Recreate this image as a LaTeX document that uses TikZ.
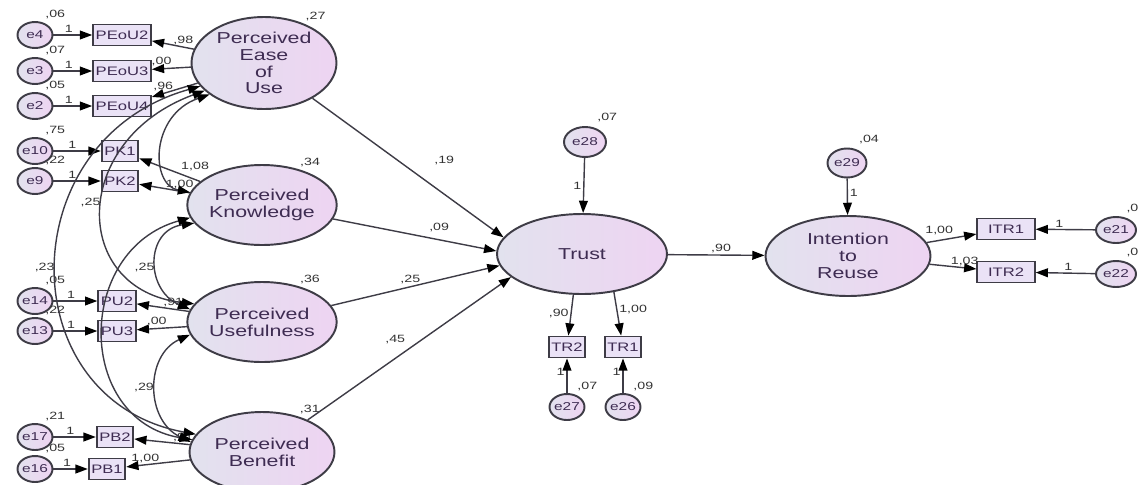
\documentclass[tikz,border=0pt]{standalone}
\usepackage{fontspec}
\setmainfont{Liberation Sans}[FakeStretch=1.35]
\usetikzlibrary{shapes.geometric,arrows.meta}

\definecolor{latleft}{RGB}{226,226,238}
\definecolor{latright}{RGB}{238,212,242}
\definecolor{boxfill}{RGB}{234,226,246}
\definecolor{edge}{RGB}{62,60,70}
\definecolor{ink}{RGB}{62,44,82}

\begin{document}
\begin{tikzpicture}[x=0.02cm, y=-0.02cm,
	latent/.style={ellipse, draw=edge, line width=1.1pt, left color=latleft, right color=latright, inner sep=0pt, text=ink, align=center, font=\fontsize{9}{9.5}\selectfont},
	errvar/.style={ellipse, draw=edge, line width=1.1pt, left color=latleft, right color=latright, inner xsep=-1pt, inner ysep=0pt, minimum width=0.7cm, minimum height=0.52cm, text=ink, font=\fontsize{6.5}{7}\selectfont},
	obs/.style={rectangle, draw=edge, line width=1pt, fill=boxfill, inner xsep=1.5pt, inner ysep=0pt, minimum height=0.42cm, text=ink, font=\fontsize{7}{8}\selectfont},
	lbl/.style={font=\fontsize{6}{7}\selectfont, text=black!80, inner sep=1pt},
	arr/.style={draw=edge, line width=0.8pt, -{Triangle[length=7pt,width=5pt,color=black]}},
	cov/.style={draw=edge, line width=0.8pt, {Triangle[length=7pt,width=5pt,color=black]}-{Triangle[length=7pt,width=5pt,color=black]}}]
	\useasboundingbox (0,0) rectangle (1142,484);
	% Latente Faktoren links
	\node[latent, minimum width=2.9cm, minimum height=1.84cm, label={[lbl]45:{,27}}] (PEoU) at (264,63) {Perceived\\Ease\\of\\Use};
	\node[latent, minimum width=2.9cm, minimum height=1.6cm, label={[lbl]45:{,34}}] (PK) at (262,205) {Perceived\\Knowledge};
	\node[latent, minimum width=2.9cm, minimum height=1.6cm, label={[lbl]45:{,36}}] (PU) at (262,322) {Perceived\\Usefulness};
	\node[latent, minimum width=2.9cm, minimum height=1.6cm, label={[lbl]45:{,31}}] (PB) at (262,452) {Perceived\\Benefit};
	% Trust und Intention
	\node[latent, minimum width=3.4cm, minimum height=1.6cm] (Trust) at (582,254) {Trust};
	\node[latent, minimum width=3.3cm, minimum height=1.6cm] (ITR) at (848,256) {Intention\\to\\Reuse};
	% Indikatoren links mit Fehlern
	\foreach \e/\i/\y/\v/\bx in {e4/PEoU2/35/{,06}/122, e3/PEoU3/71/{,07}/122, e2/PEoU4/106/{,05}/122, e10/PK1/151/{,75}/120, e9/PK2/181/{,22}/120, e14/PU2/301/{,05}/117, e13/PU3/331/{,22}/117, e17/PB2/437/{,21}/115, e16/PB1/469/{,05}/107} {
		\node[errvar, label={[lbl, label distance=1pt]60:\v}] (\e) at (35,\y) {\e};
		\node[obs] (\i) at (\bx,\y) {\i};
		\draw[arr] (\e) -- node[lbl, above, pos=0.4] {1} (\i);
	}
	% Ladungen links
	\draw[arr] (PEoU) -- node[lbl, above, pos=0.25] {,98} (PEoU2);
	\draw[arr] (PEoU) -- node[lbl, above, pos=0.75] {,00} (PEoU3);
	\draw[arr] (PEoU) -- node[lbl, above, pos=0.75] {,96} (PEoU4);
	\draw[arr] (PK) -- node[lbl, above right, pos=0.35] {1,08} (PK1);
	\draw[arr] (PK) -- node[lbl, above, pos=0.2] {1,00} (PK2);
	\draw[arr] (PU) -- node[lbl, above, pos=0.3] {,91} (PU2);
	\draw[arr] (PU) -- node[lbl, above, pos=0.6] {,00} (PU3);
	\draw[arr] (PB) -- node[lbl, above, pos=0.12] {,91} (PB2);
	\draw[arr] (PB) -- node[lbl, above, pos=0.7] {1,00} (PB1);
	% Kovarianzen
	\draw[cov] (PEoU.210) .. controls (150,115) and (150,185) .. (PK.170);
	\draw[cov] (PEoU.205) .. controls (70,140) and (70,290) .. (PU.165) node[lbl, pos=0.47, left] {,25};
	\draw[cov] (PEoU.200) .. controls (10,140) and (10,400) .. (PB.165) node[lbl, pos=0.5, left] {,23};
	\draw[cov] (PK.195) .. controls (145,230) and (145,290) .. (PU.170) node[lbl, pos=0.55, left] {,25};
	\draw[cov] (PK.190) .. controls (75,250) and (75,420) .. (PB.170);
	\draw[cov] (PU.190) .. controls (145,355) and (145,420) .. (PB.172) node[lbl, pos=0.5, left] {,29};
	% Pfade zu Trust
	\draw[arr] (PEoU) -- node[lbl, above right=6pt, pos=0.57] {,19} (Trust.168);
	\draw[arr] (PK) -- node[lbl, above=3pt, pos=0.65] {,09} (Trust.178);
	\draw[arr] (PU) -- node[lbl, above, pos=0.47] {,25} (Trust.188);
	\draw[arr] (PB) -- node[lbl, above left=1pt, pos=0.5] {,45} (Trust.198);
	\draw[arr] (Trust) -- node[lbl, above, pos=0.55] {,90} (ITR);
	% Trust Indikatoren
	\node[errvar, minimum width=0.84cm, minimum height=0.6cm, label={[lbl, label distance=2pt]60:{,07}}] (e28) at (585,142) {e28};
	\node[obs] (TR2) at (567,347) {TR2};
	\node[obs] (TR1) at (623,347) {TR1};
	\node[errvar, label={[lbl, label distance=1pt]60:{,07}}] (e27) at (567,407) {e27};
	\node[errvar, label={[lbl, label distance=1pt]60:{,09}}] (e26) at (623,407) {e26};
	\draw[arr] (e28) -- node[lbl, left] {1} (Trust);
	\draw[arr] (Trust.258) -- node[lbl, left, pos=0.45] {,90} (TR2);
	\draw[arr] (Trust.310) -- node[lbl, right, pos=0.4] {1,00} (TR1);
	\draw[arr] (e27) -- node[lbl, left, pos=0.6] {1} (TR2);
	\draw[arr] (e26) -- node[lbl, left, pos=0.6] {1} (TR1);
	% Intention Indikatoren
	\node[errvar, minimum width=0.78cm, minimum height=0.58cm, label={[lbl, label distance=2pt]60:{,04}}] (e29) at (847,163) {e29};
	\node[obs, minimum width=1.15cm] (ITR1) at (1006,229) {ITR1};
	\node[obs, minimum width=1.15cm] (ITR2) at (1006,272) {ITR2};
	\node[errvar, minimum width=0.8cm, label={[lbl, label distance=1pt]60:{,0}}] (e21) at (1116,230) {e21};
	\node[errvar, minimum width=0.8cm, label={[lbl, label distance=1pt]60:{,0}}] (e22) at (1116,274) {e22};
	\draw[arr] (e29) -- node[lbl, right, pos=0.4] {1} (ITR);
	\draw[arr] (ITR) -- node[lbl, above=2pt, pos=0.25] {1,00} (ITR1);
	\draw[arr] (ITR) -- node[lbl, above, pos=0.75] {1,03} (ITR2);
	\draw[arr] (e21) -- node[lbl, above, pos=0.6] {1} (ITR1);
	\draw[arr] (e22) -- node[lbl, above, pos=0.45] {1} (ITR2);
\end{tikzpicture}
\end{document}
